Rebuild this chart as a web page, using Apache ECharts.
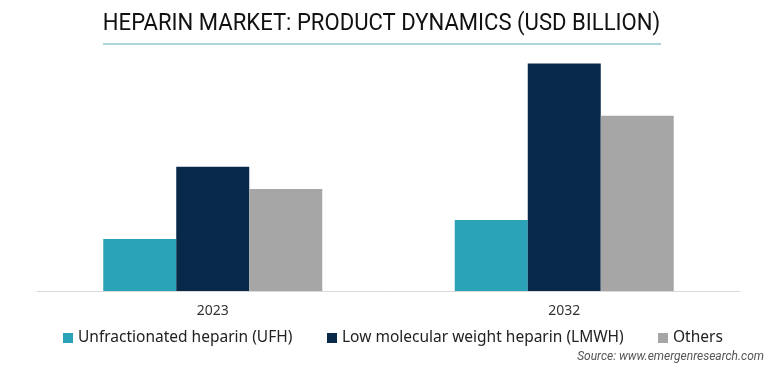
<!DOCTYPE html>
<html><head><meta charset="utf-8">
<script src="https://cdn.jsdelivr.net/npm/echarts@6/dist/echarts.min.js"></script>
<style>html,body{margin:0;padding:0;background:#fff}#c{width:772px;height:370px}</style>
</head><body><div id="c"></div>
<script>
const categories = ['2023', '2032'];
const seriesNames = ['Unfractionated heparin (UFH)', 'Low molecular weight heparin (LMWH)', 'Others'];
const ufh = [1.40, 1.91];
const lmwh = [3.34, 6.11];
const others = [2.74, 4.71];
const colors = ['#2aa3b9', '#08294a', '#a6a6a6'];
const titleText = 'HEPARIN MARKET: PRODUCT DYNAMICS (USD BILLION)';
const sourceText = 'Source: www.emergenresearch.com';

const chart = echarts.init(document.getElementById('c'));
const data = [ufh, lmwh, others];
const legendLefts = [63, 327, 658];
const legendText = { fontFamily: 'Noto Sans', fontSize: 15.5, color: '#222' };
chart.setOption({
  animation: false,
  graphic: [
    { type: 'text', x: 381.5, y: 24, scaleX: 0.92,
      style: { text: titleText, x: 0, y: 0, align: 'center', verticalAlign: 'middle',
               fontFamily: 'Roboto', fontSize: 24, fill: '#111' } },
    { type: 'line', shape: { x1: 103, y1: 44, x2: 661, y2: 44 }, style: { stroke: '#5aaabb', lineWidth: 1 } },
    { type: 'text', right: 8, top: 351, style: { text: sourceText, fontFamily: 'Roboto', fontStyle: 'italic', fontSize: 12, fill: '#555' } }
  ],
  legend: seriesNames.map((n, i) => ({
    top: 330, left: legendLefts[i], itemWidth: 10, itemHeight: 10, icon: 'rect', padding: 0,
    textStyle: legendText, data: [n]
  })),
  grid: { left: 37, right: 32, top: 49, bottom: 79 },
  xAxis: {
    type: 'category', data: categories,
    axisLine: { lineStyle: { color: '#d9d9d9', width: 1 } },
    axisTick: { show: false },
    axisLabel: { fontFamily: 'Noto Sans', fontSize: 14, color: '#333', margin: 13 }
  },
  yAxis: { type: 'value', min: 0, max: 6.5, show: false, splitLine: { show: false } },
  series: seriesNames.map((n, i) => ({
    name: n, type: 'bar', data: data[i], barGap: '0%', barCategoryGap: '37.7%',
    itemStyle: { color: colors[i] }
  }))
});
</script></body></html>
